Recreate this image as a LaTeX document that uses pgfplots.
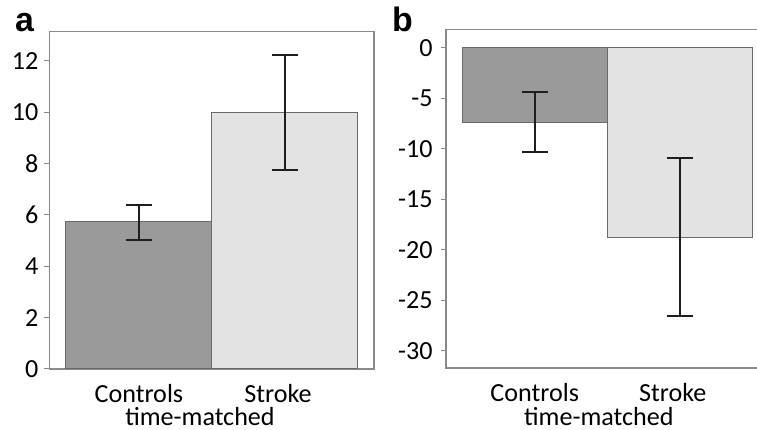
\documentclass[border=0pt]{standalone}
\usepackage{fontspec}
\setmainfont{Carlito}
\newfontfamily\labfont{Liberation Sans}
\usepackage{pgfplots}
\pgfplotsset{compat=1.18}
\definecolor{darkbar}{HTML}{9A9A9A}
\definecolor{lightbar}{HTML}{E3E3E3}
\definecolor{barline}{HTML}{6A6A6A}
\definecolor{axline}{HTML}{8A8A8A}
\definecolor{errc}{HTML}{1E1E1E}
\pgfplotsset{
  panel/.style={
    scale only axis, anchor=south west,
    enlargelimits=false,
    axis line style={axline, line width=1.2bp},
    tick style={axline, line width=1bp},
    tick align=outside, major tick length=5bp,
    ytick pos=left,
    xtick={0,1}, xticklabels={Controls,Stroke\hspace*{14bp}},
    x tick style={draw=none},
    xticklabel style={anchor=base, yshift=-28bp},
    tick label style={font=\fontsize{26.2}{31}\selectfont},
    label style={font=\fontsize{26.2}{31}\selectfont},
    /pgf/number format/assume math mode=true,
    ybar, bar width=1, bar shift=0,
    xlabel={time-matched},
  },
  err/.style={
    error bars/.cd, y dir=both, y explicit,
    error bar style={errc, line width=2bp},
    error mark options={errc, line width=2bp, rotate=90, mark size=13bp},
  },
}
\begin{document}
\begin{tikzpicture}
\useasboundingbox (0,0) rectangle (757bp,430bp);
\begin{axis}[panel, at={(49.3bp,61bp)}, width=324.7bp, height=337.3bp,
  xmin=-0.614, xmax=1.61, ymin=0, ymax=13.14,
  ytick={0,2,...,12},
  yticklabel style={xshift=-2.5bp},
  xlabel style={anchor=base, at={(axis description cs:0.464,0)}, yshift=-56bp}]
\addplot[fill=darkbar, draw=barline, line width=1bp, err]
  table[x=x, y=y, y error plus=ep, y error minus=em] {
x y ep em
0 5.73 0.67 0.69
};
\addplot[fill=lightbar, draw=barline, line width=1bp, err]
  table[x=x, y=y, y error plus=ep, y error minus=em] {
x y ep em
1 10.0 2.22 2.26
};
\end{axis}
\begin{axis}[panel, at={(446bp,62bp)}, width=312bp, height=338.7bp,
  xmin=-0.612, xmax=1.54, ymin=-31.71, ymax=1.82,
  ytick={0,-5,...,-30},
  yticklabel style={xshift=-5bp},
  xlabel style={anchor=base, at={(axis description cs:0.49,0)}, yshift=-57bp}]
\addplot[fill=darkbar, draw=barline, line width=1bp, err]
  table[x=x, y=y, y error plus=ep, y error minus=em] {
x y ep em
0 -7.39 2.97 2.91
};
\addplot[fill=lightbar, draw=barline, line width=1bp, err]
  table[x=x, y=y, y error plus=ep, y error minus=em] {
x y ep em
1 -18.78 7.86 7.82
};
\end{axis}
\node[anchor=base west, inner sep=0pt, font=\labfont\bfseries\fontsize{34}{40}\selectfont] at (15bp,398bp) {a};
\node[anchor=base west, inner sep=0pt, font=\labfont\bfseries\fontsize{34}{40}\selectfont] at (392bp,398bp) {b};
\end{tikzpicture}
\end{document}
